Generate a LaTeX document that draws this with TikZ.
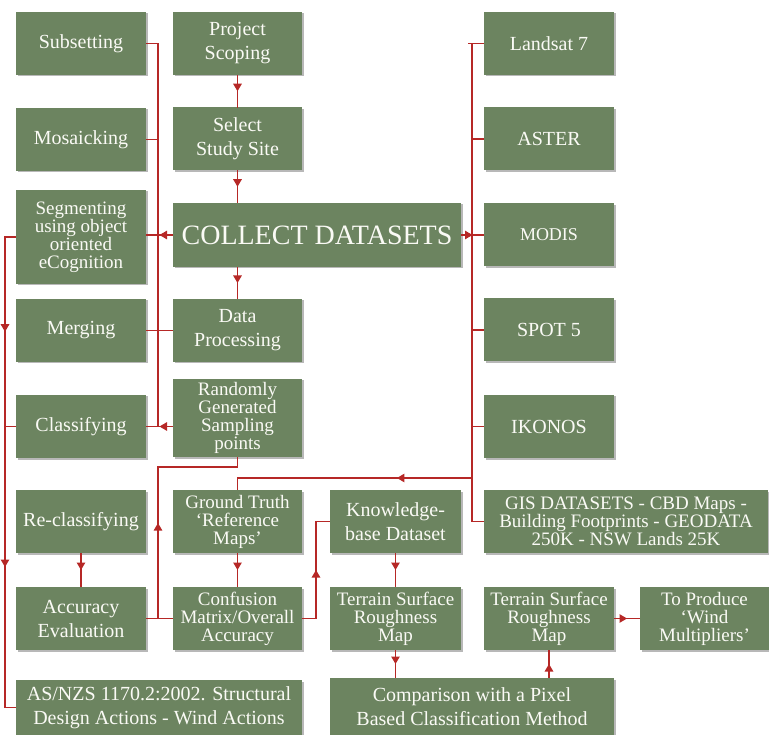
\documentclass[tikz,border=0pt]{standalone}
\usepackage{fontspec}
\setmainfont{Liberation Serif}
\usetikzlibrary{arrows.meta,decorations.markings,shadows}
\definecolor{boxgreen}{RGB}{108,132,96}
\definecolor{linered}{RGB}{182,40,38}
\definecolor{boxtext}{RGB}{250,250,245}
\setlength{\lineskiplimit}{-100pt}
\newcommand\normbox{\fontsize{20}{24}\selectfont}
\newcommand\tightbox{\fontsize{19}{18}\selectfont}
\tikzset{
  box/.style={fill=boxgreen, text=boxtext, align=center, inner sep=1pt,
    minimum width=130pt, minimum height=63pt,
    general shadow={fill=black!28, shadow xshift=1.5pt, shadow yshift=-1.5pt},
    font=\normbox},
  tight/.style={font=\tightbox},
  link/.style={draw=linered, line width=1.2pt, line cap=rect},
  arr/.style={postaction={decorate}, decoration={markings,
    mark=at position #1 with {\arrow{Triangle[width=8.5pt,length=7.5pt]}}}},
  arr/.default=0.5,
}
\begin{document}
\begin{tikzpicture}[x=1pt,y=-1pt]
\useasboundingbox (0,0) rectangle (769,735);
% left column
\node[box] (sub) at (81,43.5) {Subsetting};
\node[box] (mos) at (81,139.5) {Mosaicking};
\node[box,tight,minimum height=94pt] (seg) at (81,237) {Segmenting\\using object\\oriented\\eCognition};
\node[box] (mer) at (81,330.5) {Merging};
\node[box] (cla) at (81,426.5) {Classifying};
\node[box] (rec) at (81,521.5) {Re-classifying};
\node[box] (acc) at (81,618.5) {Accuracy\\Evaluation};
\node[box,minimum width=286pt,minimum height=55pt] (asn) at (159,707.5) {AS/NZS 1170.2:2002. Structural\\Design Actions - Wind Actions};
% second column
\node[box,minimum width=129pt] (ps) at (237.5,43.5) {Project\\Scoping};
\node[box,minimum width=129pt] (sss) at (237.5,139) {Select\\Study Site};
\node[box,minimum width=288pt,minimum height=64pt,font=\fontsize{28}{32}\selectfont] (cd) at (317,235) {COLLECT DATASETS};
\node[box,minimum width=129pt] (dp) at (237.5,330.5) {Data\\Processing};
\node[box,tight,minimum width=129pt,minimum height=78pt] (rg) at (237.5,418) {Randomly\\Generated\\Sampling\\points};
\node[box,tight,minimum width=129pt] (gt) at (237.5,521.5) {Ground Truth\\‘Reference\\Maps’};
\node[box,tight,minimum width=129pt] (cm) at (237.5,618.5) {Confusion\\Matrix/Overall\\Accuracy};
% third column
\node[box,minimum width=131pt] (kb) at (395.5,521.5) {Knowledge-\\base Dataset};
\node[box,tight,minimum width=131pt] (ts1) at (395.5,618.5) {Terrain Surface\\Roughness\\Map};
\node[box,minimum width=284pt,minimum height=57pt] (cmp) at (472,706.5) {Comparison with a Pixel\\Based Classification Method};
% right column
\node[box] (ls) at (549,43.5) {Landsat 7};
\node[box] (as) at (549,139) {ASTER};
\node[box,font=\fontsize{18}{22}\selectfont] (mo) at (549,235) {MODIS};
\node[box] (sp) at (549,330) {SPOT 5};
\node[box] (ik) at (549,426.5) {IKONOS};
\node[box,tight,minimum width=284pt] (gis) at (626,521.5) {GIS DATASETS - CBD Maps -\\Building Footprints - GEODATA\\250K - NSW Lands 25K};
\node[box,tight] (ts2) at (549,618.5) {Terrain Surface\\Roughness\\Map};
\node[box,tight,minimum width=129pt] (tp) at (704.5,618.5) {To Produce\\‘Wind\\Multipliers’};
% coordinates of buses
\coordinate (bl) at (158,0);
\coordinate (bf) at (5,0);
\coordinate (br) at (472,0);
\coordinate (rj) at (158,467);
\coordinate (ck) at (316,0);
\coordinate (gj) at (472,478);
% central chain
\draw[link,arr] (ps.south) -- (sss.north);
\draw[link,arr] (sss.south) -- (sss.south |- cd.north);
\draw[link,arr] (dp.north |- cd.south) -- (dp.north);
% left bus
\draw[link] (sub.east) -- (sub.east -| bl) -- (cla.east -| bl);
\draw[link] (mos.east) -- (mos.east -| bl);
\draw[link] (mer.east) -- (dp.west);
\draw[link,arr] (cd.west) -- (cd.west -| seg.east);
\draw[link,arr] (rg.west |- cla.east) -- (cla.east);
% far left bus
\draw[link] (seg.west) -- (seg.west -| bf);
\draw[link,arr] (seg.west -| bf) -- (cla.west -| bf);
\draw[link] (cla.west) -- (cla.west -| bf);
\draw[link,arr] (cla.west -| bf) -- (asn.west -| bf);
\draw[link] (asn.west -| bf) -- (asn.west);
% randomly -> accuracy / confusion
\draw[link] (rg.south) -- (rg.south |- rj) -- (rj);
\draw[link,arr=0.63] (acc.east -| rj) -- (rj);
\draw[link] (acc.east) -- (cm.west);
\draw[link,arr] (gt.south) -- (cm.north);
\draw[link,arr] (rec.south) -- (acc.north);
% confusion -> knowledge
\draw[link] (cm.east) -- (cm.east -| ck);
\draw[link,arr] (cm.east -| ck) -- (kb.west -| ck);
\draw[link] (kb.west -| ck) -- (kb.west);
\draw[link,arr] (kb.south) -- (ts1.north);
\draw[link,arr] (ts1.south) -- (ts1.south |- cmp.north);
\draw[link,arr] (ts2.south |- cmp.north) -- (ts2.south);
\draw[link,arr] (ts2.east) -- (tp.west);
% right bus
\draw[link] (ls.west) -- ([xshift=-3pt]ls.west -| br);
\draw[link] (ls.west -| br) -- (gis.west -| br);
\draw[link] (as.west) -- (as.west -| br);
\draw[link] (sp.west) -- (sp.west -| br);
\draw[link] (ik.west) -- (ik.west -| br);
\draw[link] (gis.west) -- (gis.west -| br);
\draw[link,arr] (cd.east) -- (mo.west);
% datasets -> ground truth
\draw[link,arr=0.32] (gj) -- (gj -| gt.north);
\draw[link] (gj -| gt.north) -- (gt.north);
\end{tikzpicture}
\end{document}
